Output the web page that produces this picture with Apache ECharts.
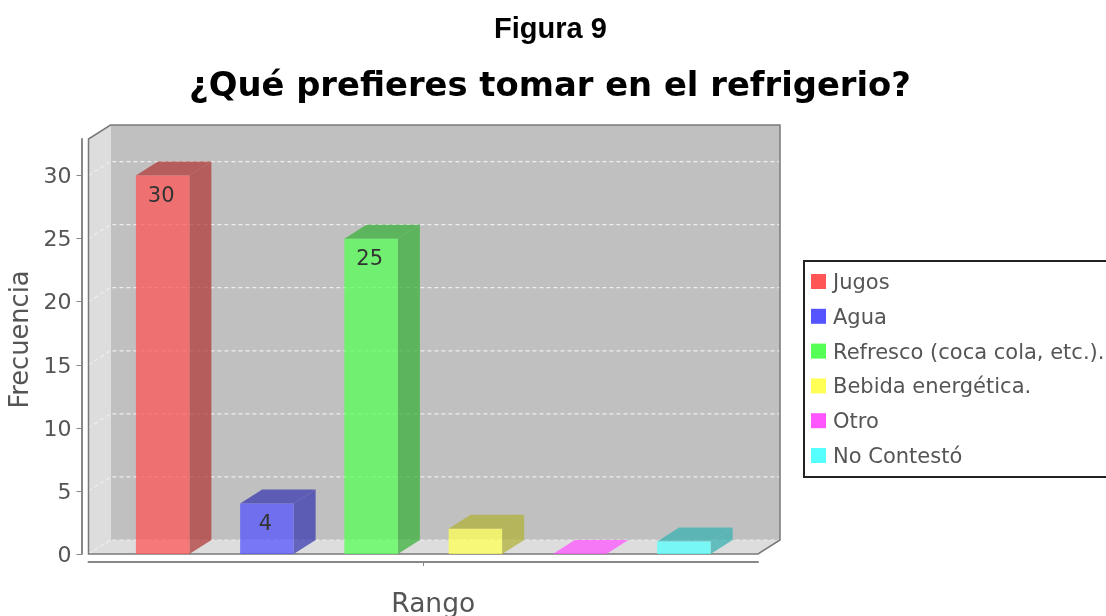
<!DOCTYPE html>
<html>
<head>
<meta charset="utf-8">
<style>html,body{margin:0;padding:0;background:#fff;overflow:hidden}#c{width:1106px;height:616px}</style>
<script src="https://cdn.jsdelivr.net/npm/echarts@6/dist/echarts.min.js"></script>
</head>
<body>
<div id="c"></div>
<script>
const figureTitle = 'Figura 9';
const chartTitle = '¿Qué prefieres tomar en el refrigerio?';
const seriesNames = ['Jugos', 'Agua', 'Refresco (coca cola, etc.).', 'Bebida energética.', 'Otro', 'No Contestó'];
const seriesValues = [30, 4, 25, 2, 0, 1];
const seriesColors = ['#FF5555', '#5555FF', '#55FF55', '#FFFF55', '#FF55FF', '#55FFFF'];
const darkColors = ['#B23B3B', '#3B3BB2', '#3BB23B', '#B2B23B', '#B23BB2', '#3BB2B2'];
const yTicks = [0, 5, 10, 15, 20, 25, 30];
const yMax = 32.9;

const DX = 22, DY = -14, PITCH = 0.1557, BAR = 0.0799, LABEL_MIN = 4;
const FONT = '"DejaVu Sans"';

function poly(points, fill, opacity) {
  return { type: 'polygon', shape: { points }, style: { fill, opacity: opacity == null ? 1 : opacity }, silent: true };
}

function renderWalls(params, api) {
  const c = params.coordSys;
  const l = c.x, r = c.x + c.width, t = c.y, b = c.y + c.height;
  const kids = [
    poly([[l + DX, t + DY], [r + DX, t + DY], [r + DX, b + DY], [l + DX, b + DY]], '#C0C0C0'),
    poly([[l, t], [l + DX, t + DY], [l + DX, b + DY], [l, b]], '#DDDDDD'),
    poly([[l, b], [l + DX, b + DY], [r + DX, b + DY], [r, b]], '#DDDDDD')
  ];
  yTicks.forEach(v => {
    const y = api.coord([0, v])[1];
    kids.push({
      type: 'polyline', silent: true,
      shape: { points: [[l, y], [l + DX, y + DY], [r + DX, y + DY]] },
      style: { fill: null, stroke: '#EEEEEE', lineWidth: 1.2, lineDash: [4, 3] }
    });
  });
  kids.push({
    type: 'polygon', silent: true,
    shape: { points: [[l, b], [l, t], [l + DX, t + DY], [r + DX, t + DY], [r + DX, b + DY], [r, b]] },
    style: { fill: null, stroke: '#7A7A7A', lineWidth: 1.5 }
  });
  return { type: 'group', children: kids };
}

function renderBar(i) {
  return function (params, api) {
    const v = api.value(1);
    const band = api.size([1, 0])[0];
    const p = api.coord([0, v]);
    const y0 = api.coord([0, 0])[1];
    const cx = p[0] + (i - 2.5) * PITCH * band;
    const w = BAR * band, x1 = cx - w / 2, x2 = cx + w / 2, y1 = p[1];
    const topFill = v > 0 ? darkColors[i] : seriesColors[i];
    const kids = [
      poly([[x2, y1], [x2 + DX, y1 + DY], [x2 + DX, y0 + DY], [x2, y0]], darkColors[i], 0.75),
      poly([[x1, y1], [x2, y1], [x2 + DX, y1 + DY], [x1 + DX, y1 + DY]], topFill, 0.75),
      poly([[x1, y1], [x2, y1], [x2, y0], [x1, y0]], seriesColors[i], 0.75)
    ];
    if (v >= LABEL_MIN) {
      kids.push({
        type: 'text', silent: true,
        style: {
          x: cx - 1.5, y: y1 + 21, text: String(v), align: 'center', verticalAlign: 'middle',
          fill: '#333', font: '21px ' + FONT
        }
      });
    }
    return { type: 'group', children: kids };
  };
}

const series = [{
  type: 'custom', name: 'walls', data: [[0, 0]], renderItem: renderWalls, silent: true, z: 1,
  encode: { x: 0, y: 1 }
}].concat(seriesNames.map((name, i) => ({
  type: 'custom', name, data: [[0, seriesValues[i]]], renderItem: renderBar(i), silent: true, z: 2 + i,
  encode: { x: 0, y: 1 }, itemStyle: { color: seriesColors[i] }
})));

const chart = echarts.init(document.getElementById('c'), null, { renderer: 'canvas' });
chart.setOption({
  animation: false,
  backgroundColor: '#fff',
  title: [
    { text: figureTitle, left: 545.5, top: 10, textAlign: 'center',
      textStyle: { fontFamily: '"Liberation Sans"', fontWeight: 'bold', fontSize: 29, color: '#000' } },
    { text: chartTitle, left: 545, top: 65, textAlign: 'center',
      textStyle: { fontFamily: FONT, fontWeight: 'bold', fontSize: 33.8, color: '#000' } }
  ],
  grid: { left: 88.5, right: 348, top: 139, bottom: 62, containLabel: false, outerBoundsMode: 'none' },
  tooltip: { show: false },
  legend: {
    orient: 'vertical', left: 804, top: 261, data: seriesNames, icon: 'path://M0 0H15V15H0Z M0 19',
    itemWidth: 15, itemHeight: 19, itemGap: 13.8, padding: [12, 4, 9, 7],
    borderColor: '#222', borderWidth: 2, backgroundColor: '#fff',
    selectedMode: false,
    textStyle: { fontFamily: FONT, fontSize: 21, color: '#555', padding: [0, 0, 0, 2] }
  },
  xAxis: {
    type: 'category', data: [''], offset: 8,
    name: 'Rango', nameLocation: 'middle', nameGap: 30,
    nameTextStyle: { fontFamily: FONT, fontSize: 26.5, color: '#555', padding: [0, 0, 0, 20] },
    axisLine: { show: true, onZero: false, lineStyle: { color: '#888', width: 2 } },
    axisTick: { show: true, alignWithLabel: true, length: 4, lineStyle: { color: '#888' } },
    axisLabel: { show: false }, splitLine: { show: false }
  },
  yAxis: {
    type: 'value', min: 0, max: yMax, interval: 5, offset: 7,
    name: 'Frecuencia', nameLocation: 'middle', nameGap: 47, nameMoveOverlap: false,
    nameTextStyle: { fontFamily: FONT, fontSize: 25.7, color: '#555', padding: [0, 0, 0, 14] },
    axisLine: { show: true, lineStyle: { color: '#888', width: 2 } },
    axisTick: { show: true, length: 5, customValues: yTicks, lineStyle: { color: '#888' } },
    axisLabel: { customValues: yTicks, fontFamily: FONT, fontSize: 22, color: '#555', margin: 10, verticalAlign: 'top', lineHeight: 4 },
    splitLine: { show: false }
  },
  series
});
</script>
</body>
</html>
